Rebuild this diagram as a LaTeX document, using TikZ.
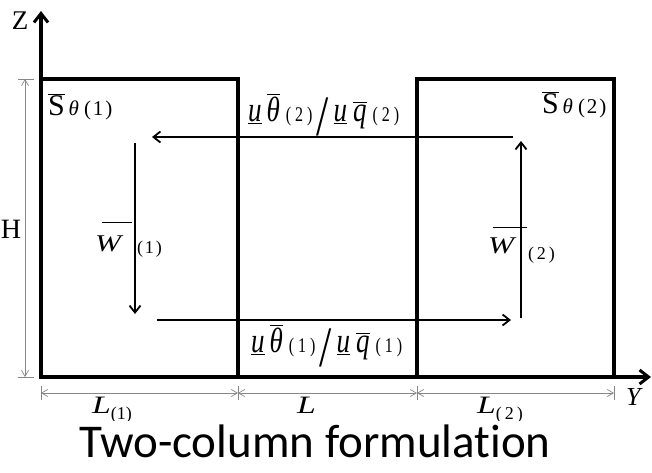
\documentclass[tikz,border=0pt]{standalone}
\usepackage{fontspec}
\usepackage{graphicx}
\setmainfont{Liberation Serif}
\newfontfamily\capfont[Ligatures={NoCommon}]{Carlito}
\usetikzlibrary{arrows.meta}
\definecolor{dimcol}{RGB}{135,135,135}
\newcommand\fs[1]{\fontsize{#1}{#1}\selectfont}
\newcommand\obar[1]{$\overline{\hbox{#1}}$}
\newcommand\fluxlbl[1]{\scalebox{1}[1.3]{\fs{27}\underline{\textit{u}}\hspace{5pt}\obar{\textit{θ}}\hspace{6pt}{\fs{16}(\hspace{4pt}#1\hspace{4pt})}\hspace{4pt}\raisebox{-11pt}{\fs{44}/}\hspace{5pt}\underline{\textit{u}}\hspace{6pt}\obar{\textit{q}}\hspace{6pt}{\fs{16}(\hspace{4pt}#1\hspace{4pt})}}}
\newcommand\slbl[1]{\fs{30}\obar{S}\hspace{4pt}{\fs{21}\textit{θ}\hspace{5pt}(\hspace{2pt}#1\hspace{2pt})}}
\begin{document}
\begin{tikzpicture}[x=1pt,y=-1pt,
  wall/.style={line width=3.4pt,line join=miter},
  axes/.style={line width=3.4pt,line join=miter,
    {Straight Barb[length=9pt,width=14pt,line width=3pt]}-{Straight Barb[length=9pt,width=14pt,line width=3pt]}},
  flow/.style={line width=2pt,-{Straight Barb[length=7pt,width=11pt,line width=1.8pt]}},
  dim/.style={draw=dimcol,line width=0.8pt,
    {Straight Barb[length=6pt,width=7pt,line width=0.7pt]}-{Straight Barb[length=6pt,width=7pt,line width=0.7pt]}},
  tick/.style={draw=dimcol,line width=0.8pt},
  lbl/.style={inner sep=0pt,outer sep=0pt,anchor=base west},
  barline/.style={line width=1.3pt}]
\useasboundingbox (0,0) rectangle (652,472);
\fill[white] (0,0) rectangle (652,472);

% key points
\coordinate (O) at (41,377);
\coordinate (Ztip) at (41,11);
\coordinate (Ytip) at (651,377);
\coordinate (C1tl) at (41,79);
\coordinate (C1tr) at (238,79);
\coordinate (C1br) at (238,377);
\coordinate (C2bl) at (417,377);
\coordinate (C2tl) at (417,79);
\coordinate (C2tr) at (614,79);
\coordinate (C2br) at (614,377);

% columns and axes
\draw[wall] (C1tl) -- (C1tr) -- (C1br);
\draw[wall] (C2bl) -- (C2tl) -- (C2tr) -- (C2br);
\draw[axes] (Ztip) -- (O) -- (Ytip);

% circulation arrows
\coordinate (F2a) at (513,137);
\coordinate (F2b) at (152,137);
\coordinate (F1a) at (157,320);
\coordinate (F1b) at (511,320);
\coordinate (V1a) at (135,143);
\coordinate (V1b) at (135,314);
\coordinate (V2a) at (521,318);
\coordinate (V2b) at (521,141);
\draw[flow] (F2a) -- (F2b);
\draw[flow] (F1a) -- (F1b);
\draw[flow] (V1a) -- (V1b);
\draw[flow] (V2a) -- (V2b);

% dimensions
\coordinate (Ht) at (25,79);
\coordinate (Hb) at (25,377);
\draw[dim] (Ht) -- (Hb);
\draw[tick] ([xshift=-7pt]Ht) -- ([xshift=9pt]Ht);
\draw[tick] ([xshift=-7pt]Hb) -- ([xshift=9pt]Hb);
\coordinate (D0) at (41,393);
\coordinate (D1) at (238,393);
\coordinate (D2) at (417,393);
\coordinate (D3) at (614,393);
\draw[dim] (D0) -- (D1);
\draw[dim] (D1) -- (D2);
\draw[dim] (D2) -- (D3);
\foreach \d in {D0,D1,D2,D3}
  \draw[tick] ([yshift=7pt]\d) -- ([yshift=-7pt]\d);

% labels
\node[lbl] (Zl) at (12,29) {\fs{27}Z};
\node[lbl] (Yl) at (626,405) {\fs{26}\textit{Y}};
\node[lbl] (Hl) at (1,238) {\fs{28}H};
\node[lbl] (S1) at (48,115) {\slbl{1}};
\node[lbl] (S2) at (542,113) {\slbl{2}};
\node[lbl] (Q2) at (248,121) {\fluxlbl{2}};
\node[lbl] (Q1) at (251,352) {\fluxlbl{1}};

\node[lbl] (W1) at (95,251) {\scalebox{1.3}[1]{\fs{24}\textit{W}}};
\draw[barline] ([shift={(7,-13)}]W1.north west) -- ++(30,0);
\node[lbl] (W1s) at (137,253) {\fs{18}(\hspace{2pt}1\hspace{2pt})};
\node[lbl] (W2) at (488,253) {\scalebox{1.3}[1]{\fs{24}\textit{W}}};
\draw[barline] ([shift={(5,-10)}]W2.north west) -- ++(34,0);
\node[lbl] (W2s) at (528,259) {\fs{18}(\hspace{3pt}2\hspace{3pt})};

\node[lbl] (L1) at (92,413) {\scalebox{1.35}[1]{\fs{25}\textit{L}}\raisebox{-6pt}{\fs{18}(1)}};
\node[lbl] (Lm) at (297,413) {\scalebox{1.35}[1]{\fs{25}\textit{L}}};
\node[lbl] (L2) at (477,413) {\scalebox{1.35}[1]{\fs{25}\textit{L}}\raisebox{-6pt}{\fs{18}(\hspace{3pt}2\hspace{3pt})}};

\fill[white] (0,421) rectangle (652,472);
\node[anchor=base] (cap) at (315,457) {\capfont\fs{47}Two-column formulation};
\end{tikzpicture}
\end{document}
